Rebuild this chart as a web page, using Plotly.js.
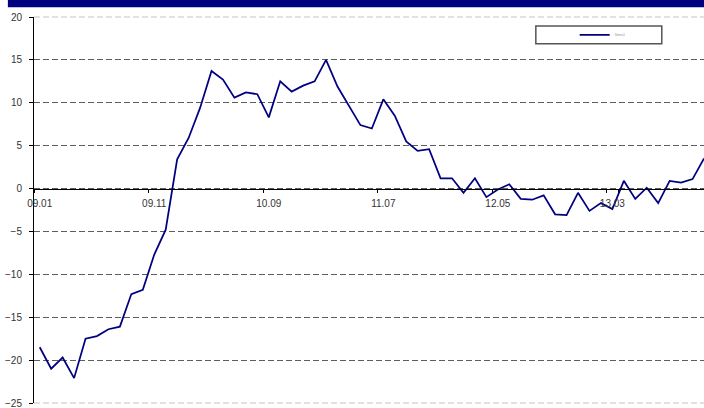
<!DOCTYPE html>
<html>
<head>
<meta charset="utf-8">
<script src="https://cdn.plot.ly/plotly-3.0.1.min.js"></script>
<style>html,body{margin:0;padding:0;background:#fff;}#chart{width:704px;height:408px;}</style>
</head>
<body>
<div id="chart"></div>
<script>
const months = [
  "09.01","09.02","09.03","09.04","09.05","09.06","09.07","09.08","09.09","09.10","09.11","09.12",
  "10.01","10.02","10.03","10.04","10.05","10.06","10.07","10.08","10.09","10.10","10.11","10.12",
  "11.01","11.02","11.03","11.04","11.05","11.06","11.07","11.08","11.09","11.10","11.11","11.12",
  "12.01","12.02","12.03","12.04","12.05","12.06","12.07","12.08","12.09","12.10","12.11","12.12",
  "13.01","13.02","13.03","13.04","13.05","13.06","13.07","13.08","13.09","13.10","13.11"
];
const seriesValues = [
  -18.5, -21.0, -19.7, -22.1, -17.5, -17.2, -16.4, -16.1, -12.3, -11.8, -7.7, -4.8,
  3.4, 5.9, 9.4, 13.7, 12.7, 10.6, 11.2, 11.0, 8.3, 12.5, 11.3, 12.0,
  12.5, 15.0, 11.9, 9.6, 7.4, 7.0, 10.4, 8.5, 5.5, 4.4, 4.6, 1.2,
  1.2, -0.5, 1.2, -1.0, -0.1, 0.5, -1.2, -1.3, -0.8, -3.0, -3.1, -0.5,
  -2.6, -1.7, -2.4, 0.9, -1.2, 0.1, -1.7, 0.9, 0.7, 1.1, 3.5
];
const xTickLabels = ["09.01","09.11","10.09","11.07","12.05","13.03"];
const yTickValues = [-25,-20,-15,-10,-5,0,5,10,15,20];
const seriesName = "Series1";

const yMin = -25, yMax = 20;

const trace = {
  x: months,
  y: seriesValues,
  type: 'scatter',
  mode: 'lines',
  name: seriesName,
  line: {color: '#000080', width: 1.75},
  showlegend: true
};

const edgeLine = (py) => ({
  type: 'line', xref: 'paper', yref: 'paper', x0: 0, x1: 1, y0: py, y1: py,
  line: {color: '#c4c4c4', width: 1, dash: '6px,3px'}, layer: 'below'
});

const layout = {
  width: 704,
  height: 408,
  margin: {l: 34, r: 0, t: 17, b: 5, pad: 0},
  paper_bgcolor: '#ffffff',
  plot_bgcolor: '#ffffff',
  font: {family: 'Liberation Sans, Arial, sans-serif', size: 10, color: '#333333'},
  showlegend: true,
  legend: {
    x: 0.807, y: 0.954, xanchor: 'left', yanchor: 'middle',
    bgcolor: 'rgba(0,0,0,0)', borderwidth: 0,
    font: {size: 3, color: '#888888'},
    itemwidth: 30
  },
  xaxis: {
    type: 'category',
    range: [-0.5, 58],
    anchor: 'free',
    position: (0 - yMin) / (yMax - yMin),
    tickmode: 'array',
    tickvals: xTickLabels,
    ticktext: xTickLabels,
    tickangle: 0,
    tickson: 'boundaries',
    ticks: 'outside',
    ticklen: 3,
    tickcolor: '#000000',
    showgrid: false,
    zeroline: false,
    showline: true,
    linecolor: '#000000',
    linewidth: 1,
    ticklabelstandoff: 5,
    ticklabeloverflow: 'allow',
    tickfont: {size: 10, color: '#333333'},
    automargin: false,
    fixedrange: true
  },
  yaxis: {
    range: [yMin, yMax],
    tickmode: 'array',
    tickvals: yTickValues,
    ticks: 'outside',
    ticklen: 4,
    tickcolor: '#000000',
    showline: true,
    linecolor: '#000000',
    linewidth: 1,
    showgrid: true,
    gridcolor: '#5e5e5e',
    griddash: '6px,3px',
    gridwidth: 1,
    zeroline: false,
    ticklabelstandoff: 5,
    ticklabeloverflow: 'allow',
    tickfont: {size: 10, color: '#333333'},
    automargin: false,
    fixedrange: true
  },
  shapes: [
    edgeLine(1),
    edgeLine(0),
    {type: 'rect', xref: 'paper', yref: 'paper', x0: -0.039, x1: 1.0, y0: 1.025, y1: 1.05,
     fillcolor: '#000080', line: {width: 0}, layer: 'above'},
    {type: 'rect', xref: 'paper', yref: 'paper', x0: 0.749, x1: 0.937, y0: 0.931, y1: 0.977,
     fillcolor: '#ffffff', line: {color: '#555555', width: 1.5}, layer: 'above'}
  ]
};

Plotly.newPlot('chart', [trace], layout, {displayModeBar: false, staticPlot: true});
</script>
</body>
</html>
